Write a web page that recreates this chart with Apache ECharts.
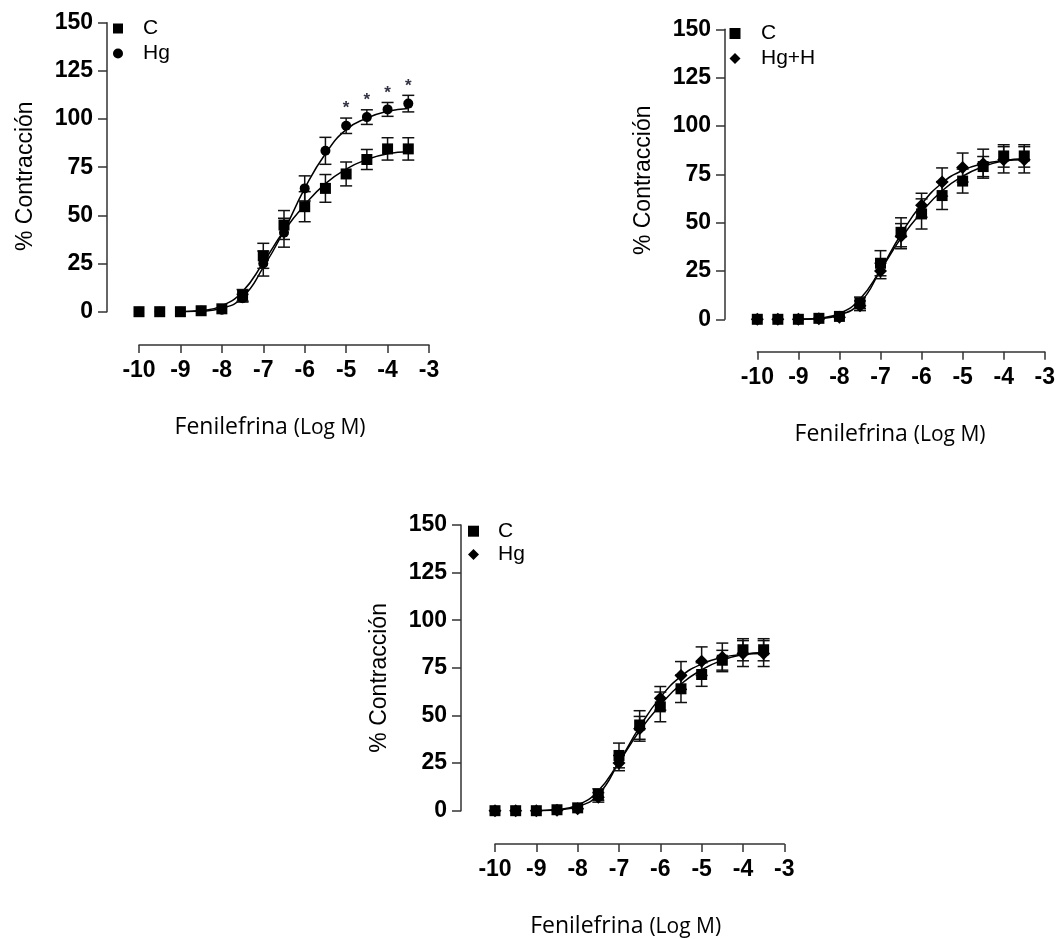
<!DOCTYPE html>
<html>
<head>
<meta charset="utf-8">
<script src="https://cdn.jsdelivr.net/npm/echarts@6/dist/echarts.min.js"></script>
<style>
  html, body { margin: 0; padding: 0; background: #ffffff; }
  #chart { width: 1058px; height: 939px; }
</style>
</head>
<body>
<div id="chart"></div>
<script>
// Phenylephrine concentration (log M) for every point
const logDose = [-10, -9.5, -9, -8.5, -8, -7.5, -7, -6.5, -6, -5.5, -5, -4.5, -4, -3.5];

// Control group (C): mean % contraction and SEM
const ctrlMean = [0, 0, 0, 0.5, 1.5, 8.5, 29, 45, 54.5, 64, 71.5, 79, 84.5, 84.5];
const ctrlSem  = [0, 0, 0, 0.5, 1, 3, 6.5, 7.5, 7.8, 7.2, 6.2, 5.2, 5.8, 5.8];

// Mercury group (Hg), top-left panel
const hgMean = [0, 0, 0, 0.5, 1, 7, 25, 41, 64, 83.5, 96.5, 101, 105, 108];
const hgSem  = [0, 0, 0, 0.5, 1, 2, 6.5, 7.5, 6.5, 7, 4, 3.8, 3.6, 4.3];

// Treated group (diamonds), top-right and bottom panels
const treatMean = [0, 0, 0, 0.3, 1, 7, 25, 43, 59, 71, 78.5, 80.5, 82.5, 82.5];
const treatSem  = [0, 0, 0, 0.5, 1, 2.5, 4, 6.5, 6.2, 7.3, 7.5, 7.5, 6.8, 6.8];

// Fitted sigmoid curves, sampled at the doses from -9 to -3.5
const fitDose  = [-9, -8.5, -8, -7.5, -7, -6.5, -6, -5.5, -5, -4.5, -4, -3.5];
const ctrlFit  = [0, 0.6, 3, 10.5, 25.5, 42, 55.5, 66.5, 74, 79, 82, 83];
const hgFit    = [0, 0.3, 1.8, 7.5, 23, 42, 64, 82, 94.5, 100.5, 104, 105.5];
const treatFit = [0, 0.4, 2.2, 8.5, 25.5, 44, 59.5, 70.5, 77, 80.5, 82, 82.5];

// Doses where Hg differs significantly from C
const hgSignificant = [-5, -4.5, -4, -3.5];

// Axis ranges and tick steps
const xRange = { min: -10, max: -3, step: 1 };
const yRange = { min: 0, max: 150, step: 25 };

// Texts
const yTitle = '% Contracción';
const xTitleMain = 'Fenilefrina';
const xTitleUnit = '(Log M)';
const legendC = 'C';
const legendHg = 'Hg';
const legendHgH = 'Hg+H';

const INK = '#000000';
const AXIS = '#333333';
const tickFont = { color: INK, fontFamily: 'Liberation Sans, Arial, sans-serif', fontWeight: 'bold', fontSize: 23 };

// Panel geometry (plot area, axis offsets, legend placement)
const panels = [
  { left: 139, top: 22.7, width: 290, height: 289, yOff: 32, xOff: 33.3,
    yShift: 18, xShift: 28, legend: { left: 113, top: 18, gap: 4, pad: 15, icon: 10 } },
  { left: 757.3, top: 29.3, width: 289.4, height: 290, yOff: 32.3, xOff: 32.4,
    yShift: 12, xShift: 22, legend: { left: 729.5, top: 23, gap: 4, pad: 15.5, icon: 11 } },
  { left: 495, top: 525, width: 289.3, height: 291, yOff: 34, xOff: 33.3,
    yShift: 20, xShift: 28, legend: { left: 468, top: 520.7, gap: 2.3, pad: 14, icon: 11 } }
];

function pairs(xs, ys, from) {
  const out = [];
  for (let i = from; i < xs.length; i++) out.push([xs[i], ys[i]]);
  return out;
}

function curveSeries(gi, fit) {
  return {
    type: 'line', xAxisIndex: gi, yAxisIndex: gi, z: 2,
    data: pairs(fitDose, fit, 0),
    smooth: 0.5,
    showSymbol: false, silent: true,
    lineStyle: { color: INK, width: 1.5 }
  };
}

function pointSeries(gi, name, mean, symbol, size, z) {
  return {
    type: 'scatter', name: name, xAxisIndex: gi, yAxisIndex: gi, z: z,
    data: pairs(logDose, mean, 0),
    symbol: symbol, symbolSize: size,
    itemStyle: { color: INK, opacity: 1 },
    silent: true
  };
}

function errorSeries(gi, mean, sem) {
  const rows = [];
  logDose.forEach((x, i) => {
    if (sem[i] > 1.5) rows.push([x, mean[i] - sem[i], mean[i] + sem[i]]);
  });
  return {
    type: 'custom', xAxisIndex: gi, yAxisIndex: gi, z: 3, silent: true,
    encode: { x: 0, y: [1, 2] },
    data: rows,
    renderItem: function (params, api) {
      const x = api.value(0);
      const lo = api.coord([x, api.value(1)]);
      const hi = api.coord([x, api.value(2)]);
      const half = 6;
      const st = { stroke: '#111111', lineWidth: 1.5 };
      return {
        type: 'group',
        children: [
          { type: 'line', shape: { x1: lo[0], y1: lo[1], x2: hi[0], y2: hi[1] }, style: st },
          { type: 'line', shape: { x1: lo[0] - half, y1: lo[1], x2: lo[0] + half, y2: lo[1] }, style: st },
          { type: 'line', shape: { x1: hi[0] - half, y1: hi[1], x2: hi[0] + half, y2: hi[1] }, style: st }
        ]
      };
    }
  };
}

function starSeries(gi, mean, sem, doses) {
  const rows = doses.map(d => {
    const i = logDose.indexOf(d);
    return [d, mean[i] + sem[i]];
  });
  return {
    type: 'custom', xAxisIndex: gi, yAxisIndex: gi, z: 4, silent: true,
    encode: { x: 0, y: 1 },
    data: rows,
    renderItem: function (params, api) {
      const p = api.coord([api.value(0), api.value(1)]);
      return {
        type: 'text',
        style: {
          text: '*', x: p[0], y: p[1] - 1,
          align: 'center', verticalAlign: 'bottom',
          font: 'bold 17px "Liberation Sans", Arial, sans-serif',
          fill: '#333344'
        }
      };
    }
  };
}

const grids = [], xAxes = [], yAxes = [], legends = [];

panels.forEach((p, gi) => {
  grids.push({ left: p.left, top: p.top, width: p.width, height: p.height, containLabel: false });

  xAxes.push({
    gridIndex: gi, type: 'value',
    min: xRange.min, max: xRange.max, interval: xRange.step,
    offset: p.xOff,
    axisLine: { show: true, onZero: false, lineStyle: { color: AXIS, width: 1.5 } },
    axisTick: { show: true, length: 8, lineStyle: { color: AXIS, width: 1.5 } },
    splitLine: { show: false },
    axisLabel: Object.assign({ margin: 14 }, tickFont),
    name: '{a|' + xTitleMain + '} {b|' + xTitleUnit + '}',
    nameLocation: 'middle', nameGap: 71,
    nameTextStyle: {
      color: INK, fontFamily: 'Open Sans, sans-serif', fontSize: 23,
      padding: [0, p.xShift, 0, 0],
      rich: {
        a: { fontFamily: 'Open Sans, sans-serif', fontSize: 23, color: INK, verticalAlign: 'bottom' },
        b: { fontFamily: 'Open Sans, sans-serif', fontSize: 21, color: INK, verticalAlign: 'bottom' }
      }
    }
  });

  yAxes.push({
    gridIndex: gi, type: 'value',
    min: yRange.min, max: yRange.max, interval: yRange.step,
    offset: p.yOff,
    axisLine: { show: true, lineStyle: { color: AXIS, width: 1.5 } },
    axisTick: { show: true, length: 9, lineStyle: { color: AXIS, width: 1.5 } },
    splitLine: { show: false },
    axisLabel: Object.assign({ margin: 14 }, tickFont),
    name: yTitle, nameLocation: 'middle', nameGap: 70, nameRotate: 90,
    nameTextStyle: {
      color: INK, fontFamily: 'Liberation Sans, Arial, sans-serif', fontSize: 23,
      padding: [0, p.yShift, 0, 0]
    }
  });
});

const legendSets = [
  [{ name: legendC, icon: 'rect' }, { name: legendHg, icon: 'circle' }],
  [{ name: legendC, icon: 'rect' }, { name: legendHgH, icon: 'diamond' }],
  [{ name: legendC, icon: 'rect' }, { name: legendHg, icon: 'diamond' }]
];

panels.forEach((p, gi) => {
  const L = p.legend;
  legends.push({
    data: legendSets[gi],
    orient: 'vertical', left: L.left, top: L.top,
    itemWidth: L.icon, itemHeight: L.icon, itemGap: L.gap,
    selectedMode: false, padding: 0,
    formatter: '{t|{name}}',
    textStyle: {
      color: INK, fontFamily: 'Liberation Sans, Arial, sans-serif', fontSize: 21,
      rich: { t: { color: INK, fontFamily: 'Liberation Sans, Arial, sans-serif', fontSize: 21, lineHeight: 20, padding: [0, 0, 0, L.pad] } }
    }
  });
});

const series = [
  // top-left: C vs Hg
  curveSeries(0, ctrlFit), curveSeries(0, hgFit),
  errorSeries(0, ctrlMean, ctrlSem), errorSeries(0, hgMean, hgSem),
  pointSeries(0, legendHg, hgMean, 'circle', 10, 5),
  pointSeries(0, legendC, ctrlMean, 'rect', 11, 6),
  starSeries(0, hgMean, hgSem, hgSignificant),

  // top-right: C vs Hg+H
  curveSeries(1, ctrlFit), curveSeries(1, treatFit),
  errorSeries(1, ctrlMean, ctrlSem), errorSeries(1, treatMean, treatSem),
  pointSeries(1, legendC, ctrlMean, 'rect', 11, 5),
  pointSeries(1, legendHgH, treatMean, 'diamond', 13, 6),

  // bottom: C vs Hg
  curveSeries(2, ctrlFit), curveSeries(2, treatFit),
  errorSeries(2, ctrlMean, ctrlSem), errorSeries(2, treatMean, treatSem),
  pointSeries(2, legendC, ctrlMean, 'rect', 11, 5),
  pointSeries(2, legendHg, treatMean, 'diamond', 13, 6)
];

const chart = echarts.init(document.getElementById('chart'), null, { renderer: 'canvas' });
chart.setOption({
  animation: false,
  backgroundColor: '#ffffff',
  grid: grids,
  xAxis: xAxes,
  yAxis: yAxes,
  legend: legends,
  series: series
});
</script>
</body>
</html>
